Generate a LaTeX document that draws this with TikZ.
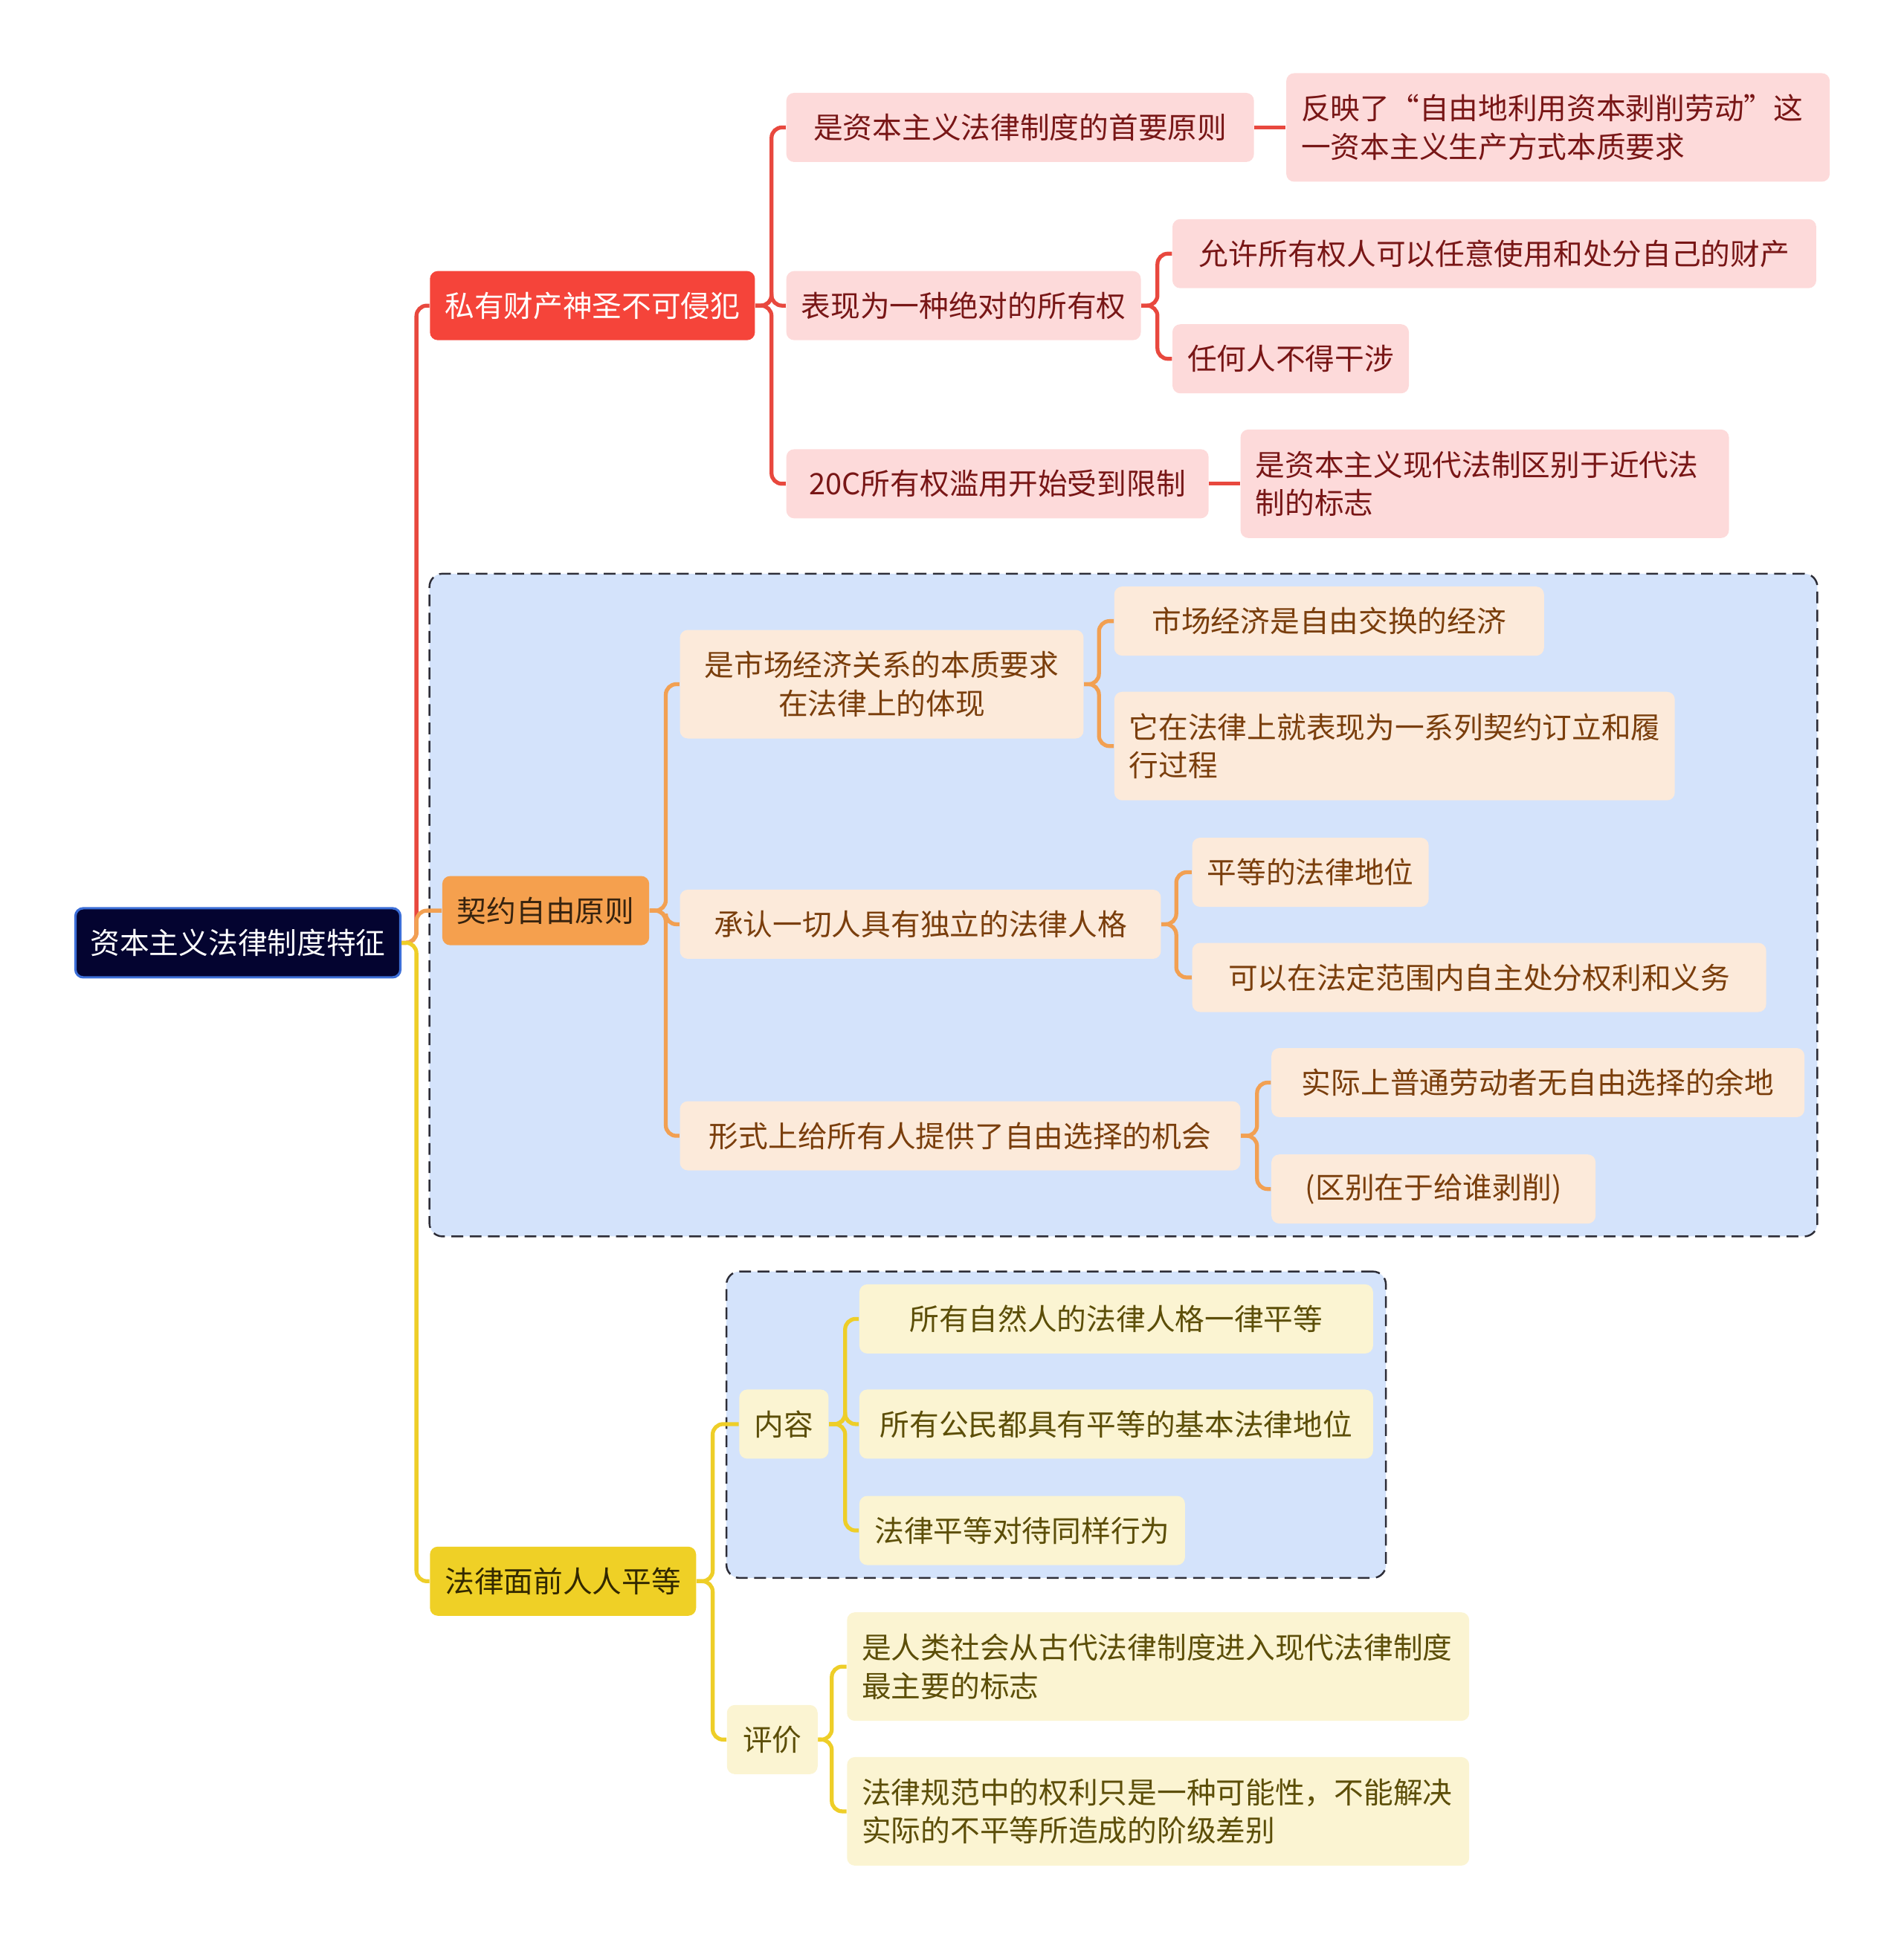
\documentclass[tikz,border=0pt]{standalone}
\usepackage{fontspec}
\setmainfont{Noto Sans CJK SC}
\usepackage{tikz}
\usetikzlibrary{positioning,fit,backgrounds}
\definecolor{rootbg}{RGB}{4,4,48}
\definecolor{rootln}{RGB}{60,110,215}
\definecolor{redmain}{RGB}{245,68,58}
\definecolor{redln}{RGB}{232,72,62}
\definecolor{redbg}{RGB}{253,218,218}
\definecolor{redtx}{RGB}{120,22,22}
\definecolor{orgmain}{RGB}{245,160,78}
\definecolor{orgln}{RGB}{242,160,82}
\definecolor{orgbg}{RGB}{252,234,218}
\definecolor{orgtx}{RGB}{122,62,12}
\definecolor{orgdk}{RGB}{55,35,15}
\definecolor{yelmain}{RGB}{239,208,38}
\definecolor{yelln}{RGB}{238,206,40}
\definecolor{yelbg}{RGB}{251,244,210}
\definecolor{yeltx}{RGB}{92,78,8}
\definecolor{yeldk}{RGB}{50,40,0}
\definecolor{grpbg}{RGB}{212,227,251}
\definecolor{grpln}{RGB}{45,45,55}

\begin{document}
\begin{tikzpicture}[
  x=0.016645cm, y=-0.016645cm,
  font=\fontsize{11.3}{14.7}\selectfont,
  box/.style={rounded corners=3pt,minimum height=0.93cm,inner xsep=0.2cm,
              inner ysep=0pt,anchor=west,align=center},
  root/.style={box,fill=rootbg,draw=rootln,line width=0.9pt,text=white},
  red1/.style={box,fill=redmain,text=white},
  org1/.style={box,fill=orgmain,text=orgdk},
  yel1/.style={box,fill=yelmain,text=yeldk},
  red2/.style={box,fill=redbg,text=redtx},
  org2/.style={box,fill=orgbg,text=orgtx},
  yel2/.style={box,fill=yelbg,text=yeltx},
  two/.style={minimum height=1.46cm,align=left},
  grp/.style={rounded corners=5pt,fill=grpbg,draw=grpln,line width=0.7pt,
              dash pattern=on 4.5pt off 2.5pt,inner sep=0.166cm},
  redl/.style={redln,line width=1.5pt,rounded corners=4pt},
  orgl/.style={orgln,line width=1.5pt,rounded corners=4pt},
  yell/.style={yelln,line width=1.5pt,rounded corners=4pt},
]
\useasboundingbox (0,0) rectangle (1538,1568);

\node[root,minimum width=4.36cm] (root) at (60,762) {资本主义法律制度特征};

\node[red1,minimum width=4.36cm] (p1) at (347,247) {私有财产神圣不可侵犯};
\node[org1,minimum width=2.78cm] (p2) at (357,736) {契约自由原则};
\node[yel1,minimum width=3.58cm] (p3) at (347,1278) {法律面前人人平等};

% 私有财产
\node[red2,minimum width=6.29cm] (r1) at (635,103) {是资本主义法律制度的首要原则};
\node[red2,minimum width=4.76cm] (r2) at (635,247) {表现为一种绝对的所有权};
\node[red2,minimum width=5.68cm] (r3) at (635,391) {20C所有权滥用开始受到限制};
\node[red2,two,text width=6.91cm] (r1a) at (1039,103) {反映了“自由地利用资本剥削劳动”这\\一资本主义生产方式本质要求};
\node[red2,minimum width=8.66cm] (r2a) at (947,205) {允许所有权人可以任意使用和处分自己的财产};
\node[red2,minimum width=3.16cm] (r2b) at (947,290) {任何人不得干涉};
\node[red2,two,text width=6.17cm] (r3a) at (1002,391) {是资本主义现代法制区别于近代法\\制的标志};

% 契约自由
\node[org2,two,align=center,minimum width=5.43cm] (o1) at (549,553) {是市场经济关系的本质要求\\在法律上的体现};
\node[org2,minimum width=6.47cm] (o2) at (549,747) {承认一切人具有独立的法律人格};
\node[org2,minimum width=7.54cm] (o3) at (549,918) {形式上给所有人提供了自由选择的机会};
\node[org2,minimum width=5.78cm] (o1a) at (900,502) {市场经济是自由交换的经济};
\node[org2,two,text width=7.14cm] (o1b) at (900,603) {它在法律上就表现为一系列契约订立和履\\行过程};
\node[org2,minimum width=3.18cm] (o2a) at (963,705) {平等的法律地位};
\node[org2,minimum width=7.72cm] (o2b) at (963,790) {可以在法定范围内自主处分权利和义务};
\node[org2,minimum width=7.17cm] (o3a) at (1027,875) {实际上普通劳动者无自由选择的余地};
\node[org2,minimum width=4.36cm] (o3b) at (1027,961) {(区别在于给谁剥削)};

% 法律面前人人平等
\node[yel2,minimum width=1.20cm] (y1) at (597,1151) {内容};
\node[yel2,minimum width=1.22cm] (y2) at (587,1406) {评价};
\node[yel2,minimum width=6.91cm] (y1a) at (694,1066) {所有自然人的法律人格一律平等};
\node[yel2,minimum width=6.91cm] (y1b) at (694,1151) {所有公民都具有平等的基本法律地位};
\node[yel2,minimum width=4.38cm] (y1c) at (694,1237) {法律平等对待同样行为};
\node[yel2,two,text width=7.97cm] (y2a) at (684,1347) {是人类社会从古代法律制度进入现代法律制度\\最主要的标志};
\node[yel2,two,text width=7.97cm] (y2b) at (684,1464) {法律规范中的权利只是一种可能性，不能解决\\实际的不平等所造成的阶级差别};

\begin{scope}[on background layer]
  \node[grp,fit=(p2)(o1a)(o3a)(o3b)] (g1) {};
  \node[grp,fit=(y1)(y1a)(y1c)] (g2) {};
\end{scope}

\draw[redl] (root.east) -- ++(12,0) |- (p1.west);
\foreach \c in {r1,r2,r3} \draw[redl] (p1.east) -- ++(13,0) |- (\c.west);
\draw[redl] (r1.east) -- (r1a.west);
\foreach \c in {r2a,r2b} \draw[redl] (r2.east) -- ++(13,0) |- (\c.west);
\draw[redl] (r3.east) -- (r3a.west);

\draw[orgl] (root.east) -- ++(12,0) |- (p2.west);
\foreach \c in {o1,o2,o3} \draw[orgl] (p2.east) -- ++(13,0) |- (\c.west);
\foreach \c in {o1a,o1b} \draw[orgl] (o1.east) -- ++(12,0) |- (\c.west);
\foreach \c in {o2a,o2b} \draw[orgl] (o2.east) -- ++(12,0) |- (\c.west);
\foreach \c in {o3a,o3b} \draw[orgl] (o3.east) -- ++(13,0) |- (\c.west);

\draw[yell] (root.east) -- ++(12,0) |- (p3.west);
\foreach \c in {y1,y2} \draw[yell] (p3.east) -- ++(13,0) |- (\c.west);
\foreach \c in {y1a,y1b,y1c} \draw[yell] (y1.east) -- ++(13,0) |- (\c.west);
\foreach \c in {y2a,y2b} \draw[yell] (y2.east) -- ++(11,0) |- (\c.west);
\end{tikzpicture}
\end{document}
